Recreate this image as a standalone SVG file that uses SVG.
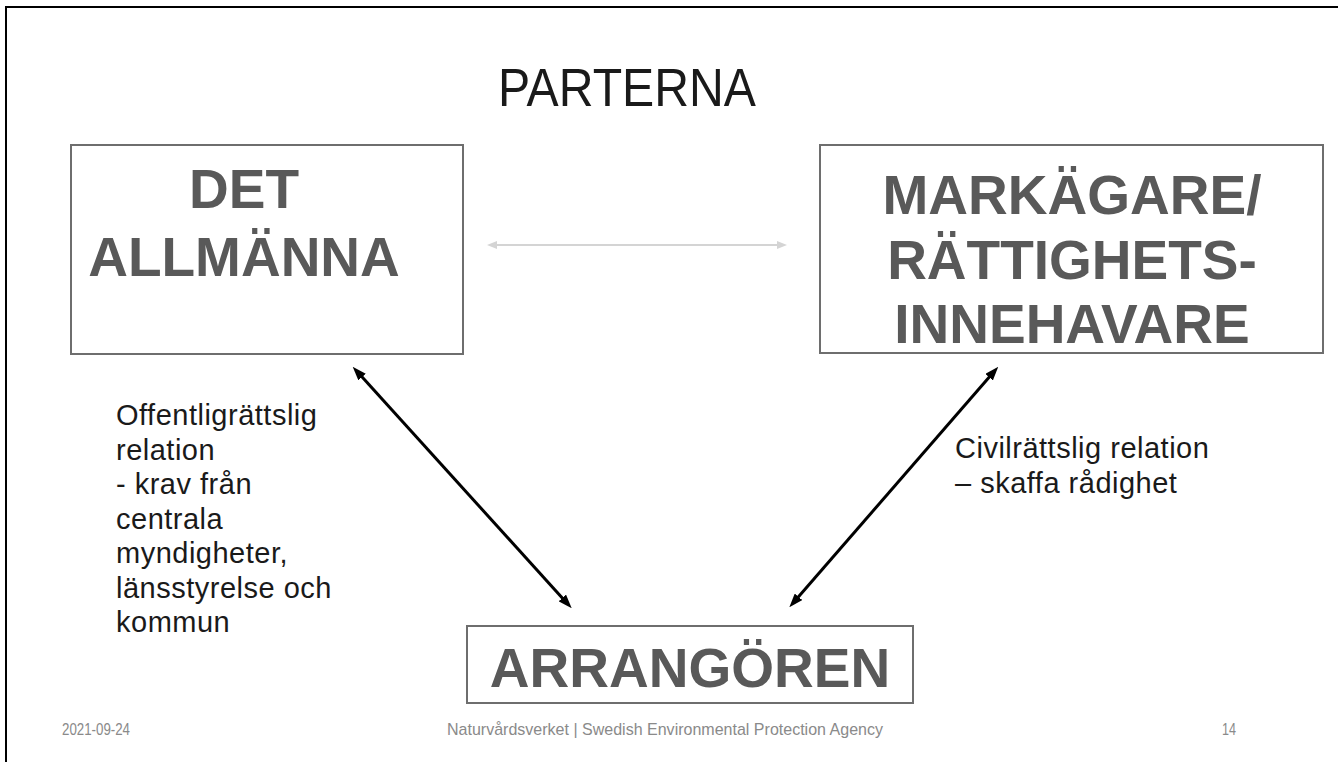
<svg xmlns="http://www.w3.org/2000/svg" width="1338" height="762" viewBox="0 0 1338 762">
<defs>
<style>
.box{fill:#ffffff;stroke:#6e6e6e;stroke-width:2}
.lbl{font-family:"Liberation Sans",Arial,sans-serif;font-weight:bold;font-size:55px;fill:#595959;text-anchor:middle}
.body{font-family:"Liberation Sans",Arial,sans-serif;font-size:29px;letter-spacing:0.5px;fill:#1a1a1a}
.foot{font-family:"Liberation Sans",Arial,sans-serif;font-size:17px;fill:#8a8a8a}
.blk{stroke:#000;stroke-width:3;fill:none}
.gry{stroke:#d4d4d4;stroke-width:2;fill:none}
</style>
<marker id="ah" viewBox="0 0 14 10" refX="4" refY="5" markerWidth="14" markerHeight="10" markerUnits="userSpaceOnUse" orient="auto-start-reverse">
<path d="M0,0 L14,5 L0,10 z" fill="#000"/>
</marker>
<marker id="ahg" viewBox="0 0 10 8" refX="3" refY="4" markerWidth="10" markerHeight="8" markerUnits="userSpaceOnUse" orient="auto-start-reverse">
<path d="M0,0 L10,4 L0,8 z" fill="#d4d4d4"/>
</marker>
</defs>
<rect x="0" y="0" width="1338" height="762" fill="#ffffff"/>
<g id="frame">
<line x1="5" y1="7" x2="1338" y2="7" stroke="#000" stroke-width="2"/>
<line x1="6" y1="6" x2="6" y2="762" stroke="#000" stroke-width="2"/>
</g>
<g id="title">
<text x="627" y="106" font-family="Liberation Sans, Arial, sans-serif" font-size="54" fill="#1a1a1a" text-anchor="middle" textLength="258" lengthAdjust="spacingAndGlyphs">PARTERNA</text>
</g>
<g id="connectors">
<line class="gry" x1="494" y1="245" x2="780" y2="245" marker-start="url(#ahg)" marker-end="url(#ahg)"/>
<line class="blk" x1="359.4" y1="374.1" x2="565" y2="600.9" marker-start="url(#ah)" marker-end="url(#ah)"/>
<line class="blk" x1="991.7" y1="374.2" x2="795.9" y2="599.8" marker-start="url(#ah)" marker-end="url(#ah)"/>
</g>
<g id="node-det-allmanna">
<rect class="box" x="71" y="145" width="392" height="209"/>
<text class="lbl" x="244" y="208">DET</text>
<text class="lbl" x="244" y="276">ALLMÄNNA</text>
</g>
<g id="node-markagare">
<rect class="box" x="820" y="145" width="503" height="208"/>
<text class="lbl" x="1072" y="214">MARKÄGARE/</text>
<text class="lbl" x="1072" y="279">RÄTTIGHETS-</text>
<text class="lbl" x="1072" y="343">INNEHAVARE</text>
</g>
<g id="node-arrangoren">
<rect class="box" x="467" y="626" width="446" height="77"/>
<text class="lbl" x="690" y="687">ARRANGÖREN</text>
</g>
<g id="label-left">
<text class="body" x="116" y="425">Offentligrättslig</text>
<text class="body" x="116" y="460">relation</text>
<text class="body" x="116" y="494">- krav från</text>
<text class="body" x="116" y="529">centrala</text>
<text class="body" x="116" y="563">myndigheter,</text>
<text class="body" x="116" y="598">länsstyrelse och</text>
<text class="body" x="116" y="632">kommun</text>
</g>
<g id="label-right">
<text class="body" x="955" y="458">Civilrättslig relation</text>
<text class="body" x="955" y="493">– skaffa rådighet</text>
</g>
<g id="footer">
<text class="foot" x="62" y="735" textLength="68" lengthAdjust="spacingAndGlyphs">2021-09-24</text>
<text class="foot" x="447" y="735" textLength="436" lengthAdjust="spacingAndGlyphs">Naturvårdsverket | Swedish Environmental Protection Agency</text>
<text class="foot" x="1222" y="735" textLength="14" lengthAdjust="spacingAndGlyphs">14</text>
</g>
</svg>
